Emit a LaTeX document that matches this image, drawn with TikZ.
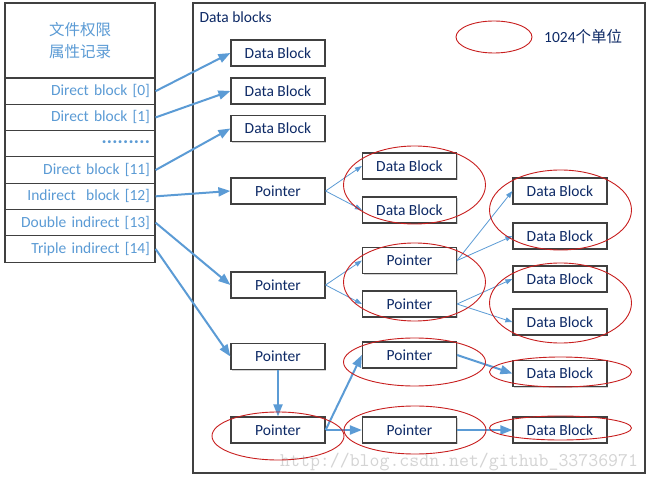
\documentclass[tikz,border=0pt]{standalone}
\usepackage{fontspec}
\setmainfont{Carlito}
\newfontfamily\cjk{Noto Sans CJK SC}
\usetikzlibrary{arrows.meta,shadows}
\definecolor{navy}{HTML}{0E2A66}
\definecolor{lblue}{HTML}{5B9BD5}
\definecolor{ered}{HTML}{C81E1E}
\definecolor{bord}{HTML}{404040}
\newcommand\mydot{\makebox[5.4pt]{\textperiodcentered}}
\tikzset{
  shad/.style={drop shadow={shadow xshift=1.2pt,shadow yshift=-1.2pt,opacity=0.35}},
  box/.style={draw=bord,line width=1.2pt,fill=white,shad,minimum width=94pt,minimum height=26pt,inner sep=0pt,text=navy,font=\fontsize{15.5}{18}\selectfont},
  row/.style={draw=bord,line width=1.1pt,fill=white,text width=140pt,inner xsep=5pt,inner ysep=0pt,minimum height=26.3pt,align=right,text=lblue,font=\fontsize{15.5}{18}\selectfont},
  thick arr/.style={draw=lblue,line width=2pt,-{Triangle[length=12pt,width=9pt]}},
  thin arr/.style={draw=lblue,line width=0.8pt,-{Triangle[length=7pt,width=5pt]}},
  ell/.style={draw=ered,line width=0.9pt},
}
\begin{document}
\begin{tikzpicture}[x=1pt,y=-1pt]
\useasboundingbox (0,0) rectangle (651,481);
% Data blocks frame
\node[draw=bord,line width=1.2pt,fill=white,shad,minimum width=452pt,minimum height=470pt,inner sep=0pt] (frame) at (419,238) {};
\node[anchor=west,text=navy,font=\fontsize{15.5}{18}\selectfont] (title) at (196,17) {Data blocks};
% left table
\node[draw=bord,line width=1.1pt,fill=white,shad,minimum width=150pt,minimum height=75pt,inner sep=0pt,align=center,text=lblue,font=\cjk\fontsize{15.5}{22}\selectfont] (head) at (80,40.5) {文件权限\\属性记录};
\node[row] (r0) at (80,91.15) {Direct block [0]};
\node[row] (r1) at (80,117.45) {Direct block [1]};
\node[row] (r2) at (80,143.75) {\textbf{\mydot\mydot\mydot\mydot\mydot\mydot\mydot\mydot\mydot}};
\node[row] (r11) at (80,170.05) {Direct block [11]};
\node[row] (r12) at (80,196.35) {Indirect\ \ block [12]};
\node[row] (r13) at (80,222.65) {Double indirect [13]};
\node[row] (r14) at (80,248.95) {Triple indirect [14]};
% legend
\draw[ell] (494,37) ellipse [x radius=38pt,y radius=16pt];
\node[anchor=west,inner sep=0pt,text=navy,font=\fontsize{15.5}{18}\selectfont] (leg) at (544,37) {1024{\cjk 个单位}};
% column 1
\node[box] (d1) at (278,53) {Data Block};
\node[box] (d2) at (278,91) {Data Block};
\node[box] (d3) at (278,128.5) {Data Block};
\node[box] (pI) at (278,191) {Pointer};
\node[box] (pD) at (278,285) {Pointer};
\node[box] (pT) at (278,356.5) {Pointer};
\node[box] (pT2) at (278,430) {Pointer};
% column 2
\node[box] (c2d1) at (409.5,166) {Data Block};
\node[box] (c2d2) at (409.5,210) {Data Block};
\node[box] (c2p1) at (409.5,260.5) {Pointer};
\node[box] (c2p2) at (409.5,304) {Pointer};
\node[box] (c2p3) at (409.5,355) {Pointer};
\node[box] (c2p4) at (409.5,430) {Pointer};
% column 3
\node[box] (c3d1) at (560,191) {Data Block};
\node[box] (c3d2) at (560,236) {Data Block};
\node[box] (c3d3) at (560,279) {Data Block};
\node[box] (c3d4) at (560,322) {Data Block};
\node[box] (c3d5) at (560,373.5) {Data Block};
\node[box] (c3d6) at (560,430) {Data Block};
% thick arrows
\draw[thick arr] (r0.east) -- (d1.west);
\draw[thick arr] (r1.east) -- (d2.west);
\draw[thick arr] (r11.east) -- (d3.west);
\draw[thick arr] (r12.east) -- (pI.west);
\draw[thick arr] (r13.east) -- (pD.west);
\draw[thick arr] (r14.east) -- (pT.west);
\draw[thick arr] (pT.south) -- (pT2.north);
\draw[thick arr] (pT2.east) -- (c2p3.west);
\draw[thick arr] (pT2.east) -- (c2p4.west);
\draw[thick arr] (c2p3.east) -- (c3d5.west);
\draw[thick arr] (c2p4.east) -- (c3d6.west);
% thin arrows
\draw[thin arr] (pI.east) -- (c2d1.west);
\draw[thin arr] (pI.east) -- (c2d2.west);
\draw[thin arr] (pD.east) -- (c2p1.west);
\draw[thin arr] (pD.east) -- (c2p2.west);
\draw[thin arr] (c2p1.east) -- (c3d1.west);
\draw[thin arr] (c2p1.east) -- (c3d2.west);
\draw[thin arr] (c2p2.east) -- (c3d3.west);
\draw[thin arr] (c2p2.east) -- (c3d4.west);
% watermark
\node[anchor=base west,inner sep=0pt,text=black!17,font=\ttfamily\fontsize{19.3}{19}\selectfont] (wm) at (280,466) {http://blog.csdn.net/github\_33736971};
% ellipses
\draw[ell] (414.5,185) ellipse [x radius=71pt,y radius=39pt];
\draw[ell] (414.5,282) ellipse [x radius=71pt,y radius=39pt];
\draw[ell] (560.5,210) ellipse [x radius=71pt,y radius=40pt];
\draw[ell] (560.5,303) ellipse [x radius=71pt,y radius=40pt];
\draw[ell] (414.5,362) ellipse [x radius=71pt,y radius=24pt];
\draw[ell] (560.5,372) ellipse [x radius=71pt,y radius=15pt];
\draw[ell] (278,436) ellipse [x radius=66pt,y radius=24pt];
\draw[ell] (415,430) ellipse [x radius=71pt,y radius=24pt];
\draw[ell] (560.5,428) ellipse [x radius=71pt,y radius=12pt];
\end{tikzpicture}
\end{document}
